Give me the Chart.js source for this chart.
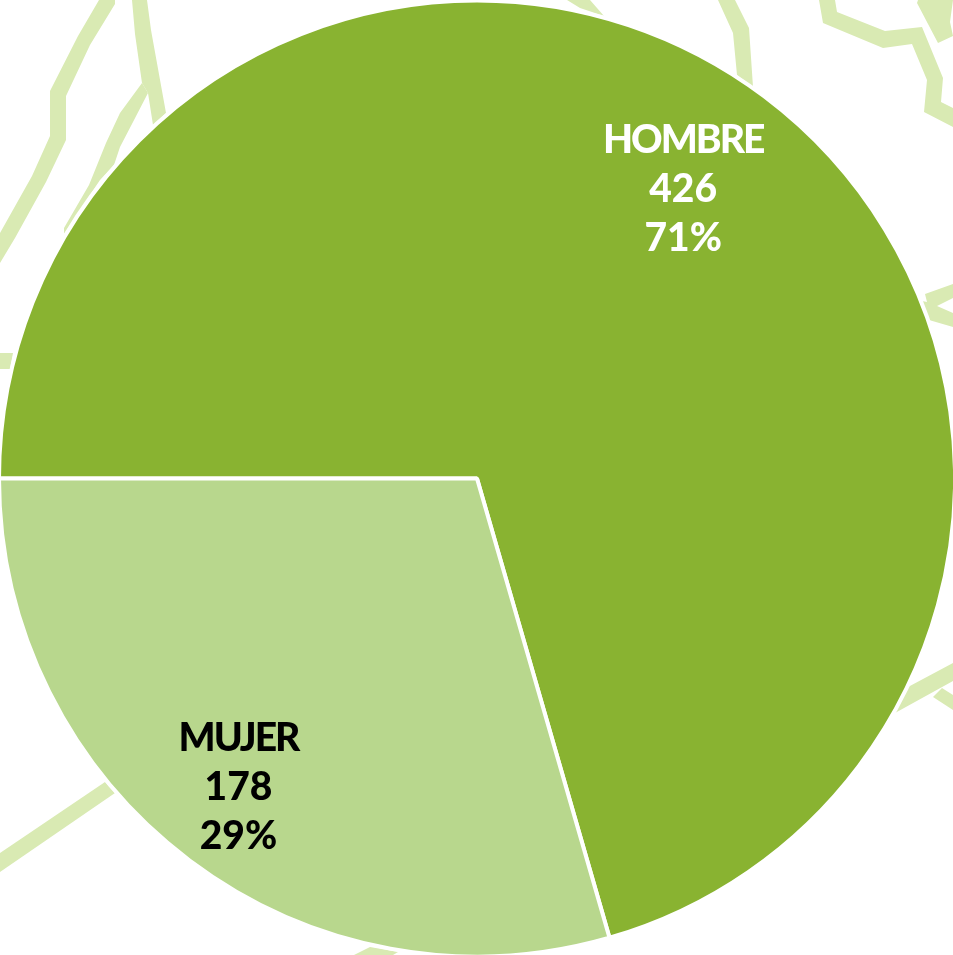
<!DOCTYPE html>
<html>
<head>
<meta charset="utf-8">
<title>HOMBRE / MUJER</title>
<script src="https://cdn.jsdelivr.net/npm/chart.js@4/dist/chart.umd.min.js"></script>
<style>
  html, body { margin: 0; padding: 0; background: #fff; overflow: hidden; }
  #wrap { position: relative; width: 953px; height: 955px; }
</style>
</head>
<body>
<div id="wrap"><canvas id="myChart" width="953" height="955"></canvas></div>
<script>
var categories = ["HOMBRE", "MUJER"];
var values = [426, 178];
var sliceColors = ["#89b331", "#b8d78d"];
var textColors = ["#ffffff", "#000000"];

// pale map outlines behind the pie, decoration only
var mapShapes = [
  [[99,0],[115,0],[115,4],[90,45],[66,96],[66,140],[46,182],[15,238],[0,263],[0,233],[32,176],[50,136],[50,91],[78,36]],
  [[132,0],[147,0],[151,30],[166,113],[153,125],[148,93],[142,83],[135,34]],
  [[142,83],[148,93],[133,122],[120,147],[114,165],[100,180],[64,234],[64,228],[89,185],[106,143],[120,113]],
  [[0,353],[13,353],[10,369],[0,369]],
  [[567,0],[590,0],[604,16],[580,8]],
  [[718,0],[735,0],[749,28],[753,87],[737,75],[733,33]],
  [[819,0],[835,0],[837,12],[885,31],[922,27],[943,78],[941,102],[953,108],[953,127],[924,112],[927,80],[912,44],[883,48],[823,23]],
  [[917,3],[918,0],[953,0],[950,22],[953,36],[938,43]],
  [[925,294],[953,284],[953,298],[937,306],[953,313],[953,327],[929,320],[922,301],[927,302]],
  [[908,687],[953,663],[953,681],[895,713]],
  [[942,688],[953,695],[953,710],[933,697]],
  [[105,782],[115,793],[0,872],[0,853]],
  [[370,947],[398,952],[393,955],[354,955]]
];

var mapBackground = {
  id: "mapBackground",
  beforeDatasetsDraw: function (chart) {
    var ctx = chart.ctx;
    ctx.save();
    ctx.fillStyle = "#d9eab3";
    mapShapes.forEach(function (shape) {
      ctx.beginPath();
      shape.forEach(function (p, i) {
        if (i === 0) ctx.moveTo(p[0], p[1]);
        else ctx.lineTo(p[0], p[1]);
      });
      ctx.closePath();
      ctx.fill();
    });
    ctx.restore();
  }
};

var sliceLabels = {
  id: "sliceLabels",
  afterDatasetsDraw: function (chart, args, opts) {
    var ctx = chart.ctx;
    var total = values.reduce(function (a, b) { return a + b; }, 0);
    chart.getDatasetMeta(0).data.forEach(function (arc, i) {
      var c = arc.getCenterPoint();
      var x = arc.x + (c.x - arc.x) * opts.reach[i][0];
      var y = arc.y + (c.y - arc.y) * opts.reach[i][1];
      var lines = [categories[i], String(values[i]), Math.round(values[i] / total * 100) + "%"];
      ctx.save();
      ctx.font = opts.font;
      ctx.fillStyle = textColors[i];
      ctx.textAlign = "center";
      ctx.textBaseline = "alphabetic";
      lines.forEach(function (line, n) {
        // names run tighter than the numbers
        ctx.letterSpacing = n === 0 ? opts.nameSpacing : "0px";
        ctx.fillText(line, x, y + (n - 1) * opts.lineGap + 15);
      });
      ctx.restore();
    });
  }
};

new Chart("myChart", {
  type: "pie",
  data: {
    labels: categories,
    datasets: [
      {
        data: values,
        backgroundColor: sliceColors,
        borderColor: "#ffffff",
        borderWidth: 4,
        clip: false,
      },
    ],
  },
  options: {
    responsive: false,
    animation: false,
    rotation: 270,
    radius: 478,
    layout: { padding: { left: 1, top: 2 } },
    plugins: {
      legend: { display: false },
      tooltip: { enabled: false },
      sliceLabels: {
        font: "900 39px Lato",
        nameSpacing: "-2px",
        lineGap: 49,
        reach: [[1.435, 1.525], [1.66, 1.605]],
      },
    },
  },
  plugins: [mapBackground, sliceLabels],
});
</script>
</body>
</html>
